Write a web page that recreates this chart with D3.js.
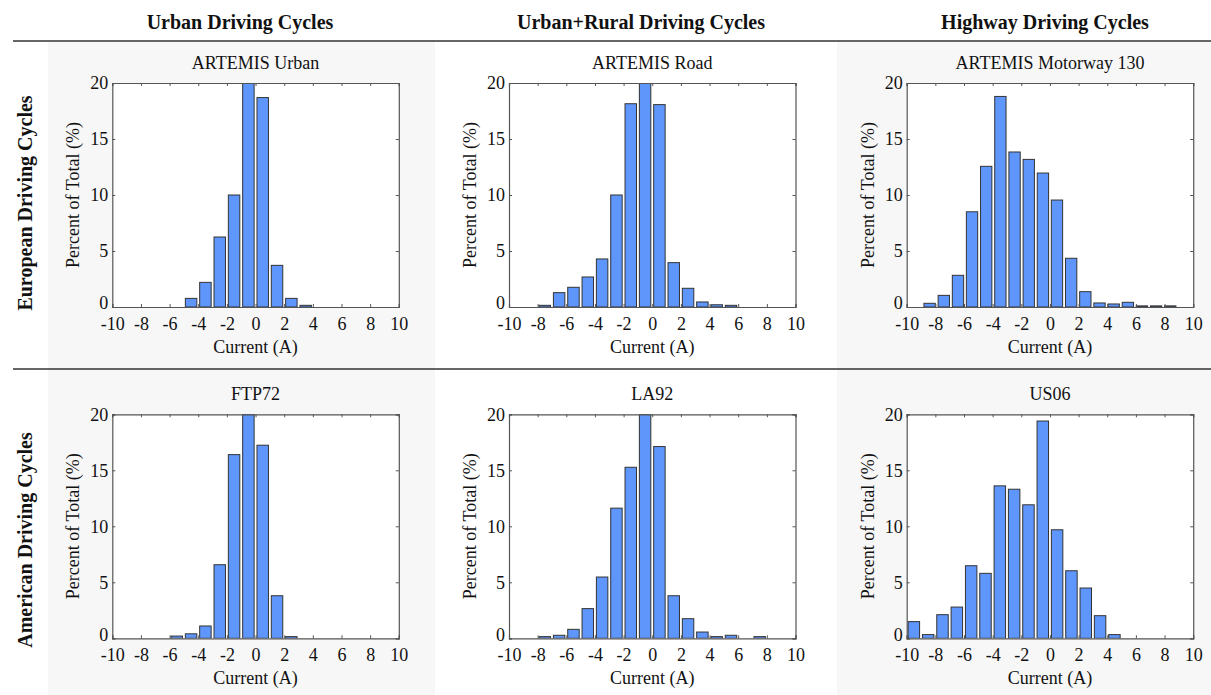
<!DOCTYPE html>
<html>
<head>
<meta charset="utf-8">
<script src="https://cdn.jsdelivr.net/npm/d3@7"></script>
<style>
html,body{margin:0;padding:0;background:#fff;}
svg{display:block;}
text{font-family:"Liberation Serif","Times New Roman",serif;fill:#111;}
</style>
</head>
<body>
<svg id="chart" width="1211" height="695"></svg>
<script>
// ---------- data ----------
const colHeaders = ["Urban Driving Cycles", "Urban+Rural Driving Cycles", "Highway Driving Cycles"];
const rowHeaders = ["European Driving Cycles", "American Driving Cycles"];
const panelTitles = ["ARTEMIS Urban", "ARTEMIS Road", "ARTEMIS Motorway 130", "FTP72", "LA92", "US06"];
const xTicks = [-10, -8, -6, -4, -2, 0, 2, 4, 6, 8, 10];
const yTicks = [0, 5, 10, 15, 20];
const xLabel = "Current (A)";
const yLabel = "Percent of Total (%)";

const urbanCenters = [-4.5, -3.5, -2.5, -1.5, -0.5, 0.5, 1.5, 2.5, 3.5];
const urbanValues  = [0.77, 2.2, 6.25, 10.0, 20.0, 18.7, 3.72, 0.77, 0.15];

const roadCenters = [-7.5, -6.5, -5.5, -4.5, -3.5, -2.5, -1.5, -0.5, 0.5, 1.5, 2.5, 3.5, 4.5, 5.5];
const roadValues  = [0.15, 1.28, 1.76, 2.68, 4.29, 10.0, 18.15, 20.0, 18.07, 3.96, 1.67, 0.45, 0.2, 0.15];

const motorwayCenters = [-8.4, -7.41, -6.42, -5.44, -4.45, -3.46, -2.47, -1.48, -0.49, 0.49, 1.48, 2.47, 3.46, 4.45, 5.44, 6.42, 7.41, 8.4];
const motorwayValues  = [0.33, 1.04, 2.83, 8.5, 12.56, 18.8, 13.84, 13.18, 11.96, 9.55, 4.35, 1.37, 0.36, 0.27, 0.42, 0.1, 0.1, 0.1];

const ftpCenters = [-5.5, -4.5, -3.5, -2.5, -1.5, -0.5, 0.5, 1.5, 2.5];
const ftpValues  = [0.2, 0.4, 1.1, 6.57, 16.4, 20.0, 17.24, 3.8, 0.15];

const la92Centers = [-7.5, -6.5, -5.5, -4.5, -3.5, -2.5, -1.5, -0.5, 0.5, 1.5, 2.5, 3.5, 4.5, 5.5, 7.5];
const la92Values  = [0.15, 0.27, 0.8, 2.65, 5.47, 11.62, 15.27, 20.0, 17.12, 3.8, 1.75, 0.56, 0.15, 0.27, 0.15];

const us06Centers = [-9.5, -8.5, -7.5, -6.5, -5.5, -4.5, -3.5, -2.5, -1.5, -0.5, 0.5, 1.5, 2.5, 3.5, 4.5];
const us06Values  = [1.49, 0.33, 2.11, 2.79, 6.48, 5.8, 13.61, 13.31, 11.92, 19.4, 9.69, 6.03, 4.49, 2.02, 0.33];

const panelCenters = [urbanCenters, roadCenters, motorwayCenters, ftpCenters, la92Centers, us06Centers];
const panelValues  = [urbanValues, roadValues, motorwayValues, ftpValues, la92Values, us06Values];
const binWidths = [1, 1, 0.988, 1, 1, 1];

// ---------- layout ----------
const svg = d3.select("#chart");
const colLeft = [112.3, 509, 906.7];
const plotW = 286.5;
const rowTop = [83, 414.3];
const plotH = 224;

// background bands
svg.append("rect").attr("x", 48).attr("y", 42).attr("width", 387).attr("height", 653).attr("fill", "#f7f7f7");
svg.append("rect").attr("x", 837).attr("y", 42).attr("width", 374).attr("height", 653).attr("fill", "#f7f7f7");

// separator lines
[41, 369].forEach(y => {
  svg.append("line").attr("x1", 13).attr("x2", 1211).attr("y1", y).attr("y2", y)
    .attr("stroke", "#333").attr("stroke-width", 1.6);
});

// column headers
const headerX = [240, 641, 1045];
colHeaders.forEach((h, i) => {
  svg.append("text").attr("x", headerX[i]).attr("y", 29)
    .attr("text-anchor", "middle").attr("font-weight", "bold").attr("font-size", 20).text(h);
});
// row headers
const rowCenterY = [203, 540];
rowHeaders.forEach((h, i) => {
  svg.append("text").attr("transform", `translate(32,${rowCenterY[i]}) rotate(-90)`)
    .attr("text-anchor", "middle").attr("font-weight", "bold").attr("font-size", 20).text(h);
});

// panels
panelTitles.forEach((title, p) => {
  const r = Math.floor(p / 3), c = p % 3;
  const x0 = colLeft[c], y0 = rowTop[r];
  const g = svg.append("g").attr("transform", `translate(${x0},${y0})`);
  const x = d3.scaleLinear().domain([-10, 10]).range([0, plotW]);
  const y = d3.scaleLinear().domain([0, 20]).range([plotH, 0]);

  g.append("rect").attr("width", plotW).attr("height", plotH).attr("fill", "#fff");

  const clipId = "clip" + p;
  g.append("clipPath").attr("id", clipId).append("rect")
    .attr("x", 0).attr("y", 0).attr("width", plotW).attr("height", plotH);

  const bw = binWidths[p] * 0.8;
  const centers = panelCenters[p], vals = panelValues[p];
  g.append("g").attr("clip-path", `url(#${clipId})`).selectAll("rect")
    .data(centers.map((cc, i) => ({c: cc, v: vals[i]})))
    .join("rect")
    .attr("x", d => x(d.c - bw / 2))
    .attr("width", d => x(d.c + bw / 2) - x(d.c - bw / 2))
    .attr("y", d => y(d.v))
    .attr("height", d => y(0) - y(d.v))
    .attr("fill", "#5f96fc")
    .attr("stroke", "#333")
    .attr("stroke-width", 1);

  // axes
  const axB = d3.axisBottom(x).tickValues(xTicks).tickSize(-3).tickPadding(10).tickFormat(d3.format("d"));
  const axT = d3.axisTop(x).tickValues(xTicks).tickSize(-3).tickFormat("");
  const axL = d3.axisLeft(y).tickValues(yTicks).tickSize(-3).tickPadding(4).tickFormat(d3.format("d"));
  const axR = d3.axisRight(y).tickValues(yTicks).tickSize(-3).tickFormat("");

  const styleAxis = sel => {
    sel.select(".domain").attr("stroke", "#555").attr("stroke-width", 1.2);
    sel.selectAll(".tick line").attr("stroke", "#555");
    sel.selectAll(".tick text").attr("font-size", 18).attr("fill", "#111")
      .attr("font-family", "Liberation Serif, serif");
  };
  g.append("g").attr("transform", `translate(0,${plotH})`).call(axB).call(styleAxis)
    .selectAll(".tick text").text(d => d < 0 ? "-" + Math.abs(d) : d);
  g.append("g").call(axT).call(styleAxis);
  g.append("g").call(axL).call(styleAxis).selectAll(".tick text")
    .attr("dy", (d) => d === 0 ? "0.1em" : "0.32em");
  g.append("g").attr("transform", `translate(${plotW},0)`).call(axR).call(styleAxis);

  // title
  g.append("text").attr("x", plotW / 2).attr("y", -14).attr("text-anchor", "middle")
    .attr("font-size", 18).text(title);
  // x label
  g.append("text").attr("x", plotW / 2).attr("y", plotH + 46).attr("text-anchor", "middle")
    .attr("font-size", 18).text(xLabel);
  // y label
  g.append("text").attr("transform", `translate(-33,${plotH / 2}) rotate(-90)`)
    .attr("text-anchor", "middle").attr("font-size", 18).text(yLabel);
});
</script>
</body>
</html>
